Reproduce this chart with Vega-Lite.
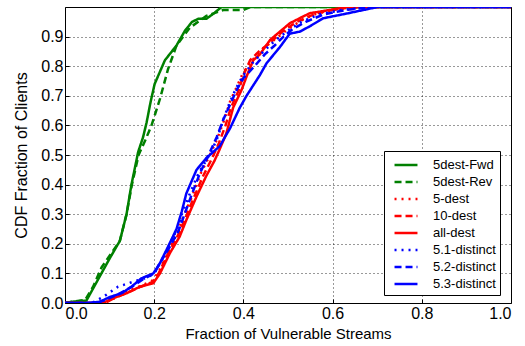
{
  "$schema": "https://vega.github.io/schema/vega-lite/v6.json",
  "width": 446,
  "height": 296,
  "autosize": "none",
  "padding": {"left": 65, "top": 7, "right": 14, "bottom": 43},
  "background": "white",
  "config": {
    "font": "Liberation Sans",
    "view": {"stroke": "black", "strokeWidth": 1},
    "axis": {
      "labelFont": "Liberation Sans", "titleFont": "Liberation Sans",
      "labelFontSize": 16, "titleFontSize": 15, "labelColor": "black", "titleColor": "black",
      "titleFontWeight": "normal", "domain": false, "tickColor": "black",
      "gridColor": "black", "gridDash": [1, 3], "gridOpacity": 0.8, "gridWidth": 1
    }
  },
  "data": {"values": [
    {"s":"5dest-Fwd","x":0,"y":0},{"s":"5dest-Fwd","x":0.02,"y":0.005},{"s":"5dest-Fwd","x":0.048,"y":0.008},{"s":"5dest-Fwd","x":0.078,"y":0.09},{"s":"5dest-Fwd","x":0.1,"y":0.15},{"s":"5dest-Fwd","x":0.123,"y":0.21},{"s":"5dest-Fwd","x":0.138,"y":0.3},{"s":"5dest-Fwd","x":0.149,"y":0.4},{"s":"5dest-Fwd","x":0.164,"y":0.51},{"s":"5dest-Fwd","x":0.175,"y":0.56},{"s":"5dest-Fwd","x":0.183,"y":0.61},{"s":"5dest-Fwd","x":0.192,"y":0.68},{"s":"5dest-Fwd","x":0.201,"y":0.74},{"s":"5dest-Fwd","x":0.224,"y":0.82},{"s":"5dest-Fwd","x":0.25,"y":0.87},{"s":"5dest-Fwd","x":0.269,"y":0.92},{"s":"5dest-Fwd","x":0.285,"y":0.95},{"s":"5dest-Fwd","x":0.299,"y":0.96},{"s":"5dest-Fwd","x":0.317,"y":0.96},{"s":"5dest-Fwd","x":0.335,"y":0.98},{"s":"5dest-Fwd","x":0.351,"y":1.0},{"s":"5dest-Fwd","x":1.0,"y":1.0},
    {"s":"5dest-Rev","x":0,"y":0},{"s":"5dest-Rev","x":0.02,"y":0.005},{"s":"5dest-Rev","x":0.045,"y":0.01},{"s":"5dest-Rev","x":0.063,"y":0.055},{"s":"5dest-Rev","x":0.082,"y":0.12},{"s":"5dest-Rev","x":0.1,"y":0.16},{"s":"5dest-Rev","x":0.123,"y":0.21},{"s":"5dest-Rev","x":0.138,"y":0.3},{"s":"5dest-Rev","x":0.15,"y":0.4},{"s":"5dest-Rev","x":0.165,"y":0.5},{"s":"5dest-Rev","x":0.18,"y":0.55},{"s":"5dest-Rev","x":0.194,"y":0.6},{"s":"5dest-Rev","x":0.213,"y":0.69},{"s":"5dest-Rev","x":0.231,"y":0.79},{"s":"5dest-Rev","x":0.25,"y":0.87},{"s":"5dest-Rev","x":0.28,"y":0.93},{"s":"5dest-Rev","x":0.317,"y":0.97},{"s":"5dest-Rev","x":0.355,"y":0.99},{"s":"5dest-Rev","x":0.4,"y":0.99},{"s":"5dest-Rev","x":0.415,"y":1.0},{"s":"5dest-Rev","x":1.0,"y":1.0},
    {"s":"5-dest","x":0,"y":0},{"s":"5-dest","x":0.09,"y":0},{"s":"5-dest","x":0.115,"y":0.02},{"s":"5-dest","x":0.14,"y":0.04},{"s":"5-dest","x":0.17,"y":0.058},{"s":"5-dest","x":0.195,"y":0.075},{"s":"5-dest","x":0.21,"y":0.105},{"s":"5-dest","x":0.23,"y":0.17},{"s":"5-dest","x":0.25,"y":0.23},{"s":"5-dest","x":0.265,"y":0.29},{"s":"5-dest","x":0.285,"y":0.36},{"s":"5-dest","x":0.305,"y":0.44},{"s":"5-dest","x":0.325,"y":0.5},{"s":"5-dest","x":0.34,"y":0.55},{"s":"5-dest","x":0.355,"y":0.61},{"s":"5-dest","x":0.37,"y":0.68},{"s":"5-dest","x":0.385,"y":0.73},{"s":"5-dest","x":0.4,"y":0.78},{"s":"5-dest","x":0.42,"y":0.82},{"s":"5-dest","x":0.44,"y":0.855},{"s":"5-dest","x":0.47,"y":0.89},{"s":"5-dest","x":0.5,"y":0.925},{"s":"5-dest","x":0.53,"y":0.955},{"s":"5-dest","x":0.56,"y":0.975},{"s":"5-dest","x":0.6,"y":0.99},{"s":"5-dest","x":0.65,"y":1.0},{"s":"5-dest","x":1.0,"y":1.0},
    {"s":"10-dest","x":0,"y":0},{"s":"10-dest","x":0.09,"y":0},{"s":"10-dest","x":0.11,"y":0.016},{"s":"10-dest","x":0.14,"y":0.035},{"s":"10-dest","x":0.17,"y":0.055},{"s":"10-dest","x":0.195,"y":0.07},{"s":"10-dest","x":0.21,"y":0.1},{"s":"10-dest","x":0.232,"y":0.17},{"s":"10-dest","x":0.252,"y":0.225},{"s":"10-dest","x":0.268,"y":0.28},{"s":"10-dest","x":0.29,"y":0.36},{"s":"10-dest","x":0.31,"y":0.43},{"s":"10-dest","x":0.33,"y":0.49},{"s":"10-dest","x":0.345,"y":0.54},{"s":"10-dest","x":0.36,"y":0.6},{"s":"10-dest","x":0.372,"y":0.66},{"s":"10-dest","x":0.39,"y":0.72},{"s":"10-dest","x":0.4,"y":0.77},{"s":"10-dest","x":0.415,"y":0.82},{"s":"10-dest","x":0.435,"y":0.85},{"s":"10-dest","x":0.46,"y":0.88},{"s":"10-dest","x":0.49,"y":0.92},{"s":"10-dest","x":0.52,"y":0.95},{"s":"10-dest","x":0.55,"y":0.97},{"s":"10-dest","x":0.58,"y":0.985},{"s":"10-dest","x":0.62,"y":0.995},{"s":"10-dest","x":0.66,"y":1.0},{"s":"10-dest","x":1.0,"y":1.0},
    {"s":"all-dest","x":0,"y":0},{"s":"all-dest","x":0.085,"y":0},{"s":"all-dest","x":0.108,"y":0.016},{"s":"all-dest","x":0.138,"y":0.033},{"s":"all-dest","x":0.168,"y":0.055},{"s":"all-dest","x":0.198,"y":0.067},{"s":"all-dest","x":0.213,"y":0.1},{"s":"all-dest","x":0.235,"y":0.168},{"s":"all-dest","x":0.257,"y":0.224},{"s":"all-dest","x":0.272,"y":0.28},{"s":"all-dest","x":0.295,"y":0.36},{"s":"all-dest","x":0.317,"y":0.43},{"s":"all-dest","x":0.335,"y":0.48},{"s":"all-dest","x":0.347,"y":0.52},{"s":"all-dest","x":0.362,"y":0.574},{"s":"all-dest","x":0.377,"y":0.66},{"s":"all-dest","x":0.396,"y":0.72},{"s":"all-dest","x":0.407,"y":0.765},{"s":"all-dest","x":0.422,"y":0.82},{"s":"all-dest","x":0.437,"y":0.84},{"s":"all-dest","x":0.46,"y":0.889},{"s":"all-dest","x":0.482,"y":0.917},{"s":"all-dest","x":0.504,"y":0.945},{"s":"all-dest","x":0.534,"y":0.968},{"s":"all-dest","x":0.549,"y":0.979},{"s":"all-dest","x":0.594,"y":0.99},{"s":"all-dest","x":0.632,"y":1.0},{"s":"all-dest","x":1.0,"y":1.0},
    {"s":"5.1-distinct","x":0,"y":0},{"s":"5.1-distinct","x":0.06,"y":0},{"s":"5.1-distinct","x":0.085,"y":0.02},{"s":"5.1-distinct","x":0.119,"y":0.055},{"s":"5.1-distinct","x":0.153,"y":0.072},{"s":"5.1-distinct","x":0.183,"y":0.085},{"s":"5.1-distinct","x":0.2,"y":0.1},{"s":"5.1-distinct","x":0.215,"y":0.14},{"s":"5.1-distinct","x":0.232,"y":0.19},{"s":"5.1-distinct","x":0.25,"y":0.245},{"s":"5.1-distinct","x":0.262,"y":0.3},{"s":"5.1-distinct","x":0.28,"y":0.37},{"s":"5.1-distinct","x":0.3,"y":0.44},{"s":"5.1-distinct","x":0.32,"y":0.49},{"s":"5.1-distinct","x":0.34,"y":0.55},{"s":"5.1-distinct","x":0.355,"y":0.62},{"s":"5.1-distinct","x":0.37,"y":0.68},{"s":"5.1-distinct","x":0.385,"y":0.73},{"s":"5.1-distinct","x":0.4,"y":0.77},{"s":"5.1-distinct","x":0.42,"y":0.81},{"s":"5.1-distinct","x":0.445,"y":0.85},{"s":"5.1-distinct","x":0.47,"y":0.885},{"s":"5.1-distinct","x":0.5,"y":0.92},{"s":"5.1-distinct","x":0.53,"y":0.95},{"s":"5.1-distinct","x":0.57,"y":0.975},{"s":"5.1-distinct","x":0.62,"y":0.99},{"s":"5.1-distinct","x":0.68,"y":1.0},{"s":"5.1-distinct","x":1.0,"y":1.0},
    {"s":"5.2-distinct","x":0,"y":0},{"s":"5.2-distinct","x":0.07,"y":0},{"s":"5.2-distinct","x":0.09,"y":0.01},{"s":"5.2-distinct","x":0.12,"y":0.03},{"s":"5.2-distinct","x":0.15,"y":0.055},{"s":"5.2-distinct","x":0.175,"y":0.08},{"s":"5.2-distinct","x":0.2,"y":0.1},{"s":"5.2-distinct","x":0.215,"y":0.14},{"s":"5.2-distinct","x":0.235,"y":0.19},{"s":"5.2-distinct","x":0.255,"y":0.245},{"s":"5.2-distinct","x":0.268,"y":0.3},{"s":"5.2-distinct","x":0.285,"y":0.37},{"s":"5.2-distinct","x":0.303,"y":0.44},{"s":"5.2-distinct","x":0.322,"y":0.5},{"s":"5.2-distinct","x":0.34,"y":0.56},{"s":"5.2-distinct","x":0.355,"y":0.62},{"s":"5.2-distinct","x":0.37,"y":0.67},{"s":"5.2-distinct","x":0.385,"y":0.72},{"s":"5.2-distinct","x":0.4,"y":0.76},{"s":"5.2-distinct","x":0.425,"y":0.8},{"s":"5.2-distinct","x":0.448,"y":0.84},{"s":"5.2-distinct","x":0.47,"y":0.87},{"s":"5.2-distinct","x":0.49,"y":0.9},{"s":"5.2-distinct","x":0.51,"y":0.925},{"s":"5.2-distinct","x":0.54,"y":0.95},{"s":"5.2-distinct","x":0.58,"y":0.975},{"s":"5.2-distinct","x":0.63,"y":0.99},{"s":"5.2-distinct","x":0.69,"y":1.0},{"s":"5.2-distinct","x":1.0,"y":1.0},
    {"s":"5.3-distinct","x":0,"y":0},{"s":"5.3-distinct","x":0.05,"y":0},{"s":"5.3-distinct","x":0.078,"y":0.004},{"s":"5.3-distinct","x":0.1,"y":0.02},{"s":"5.3-distinct","x":0.127,"y":0.033},{"s":"5.3-distinct","x":0.149,"y":0.055},{"s":"5.3-distinct","x":0.171,"y":0.083},{"s":"5.3-distinct","x":0.198,"y":0.1},{"s":"5.3-distinct","x":0.213,"y":0.135},{"s":"5.3-distinct","x":0.231,"y":0.19},{"s":"5.3-distinct","x":0.25,"y":0.25},{"s":"5.3-distinct","x":0.262,"y":0.31},{"s":"5.3-distinct","x":0.272,"y":0.37},{"s":"5.3-distinct","x":0.295,"y":0.45},{"s":"5.3-distinct","x":0.317,"y":0.49},{"s":"5.3-distinct","x":0.347,"y":0.53},{"s":"5.3-distinct","x":0.37,"y":0.59},{"s":"5.3-distinct","x":0.392,"y":0.66},{"s":"5.3-distinct","x":0.407,"y":0.7},{"s":"5.3-distinct","x":0.437,"y":0.77},{"s":"5.3-distinct","x":0.452,"y":0.81},{"s":"5.3-distinct","x":0.482,"y":0.865},{"s":"5.3-distinct","x":0.504,"y":0.91},{"s":"5.3-distinct","x":0.527,"y":0.917},{"s":"5.3-distinct","x":0.549,"y":0.935},{"s":"5.3-distinct","x":0.579,"y":0.962},{"s":"5.3-distinct","x":0.632,"y":0.978},{"s":"5.3-distinct","x":0.676,"y":0.992},{"s":"5.3-distinct","x":0.7,"y":1.0},{"s":"5.3-distinct","x":1.0,"y":1.0}
  ]},
  "mark": {"type": "line", "strokeWidth": 2.5, "clip": true},
  "encoding": {
    "x": {"field": "x", "type": "quantitative", "scale": {"domain": [0, 1], "nice": false},
      "axis": {"title": "Fraction of Vulnerable Streams", "values": [0, 0.2, 0.4, 0.6, 0.8, 1.0], "format": ".1f", "tickSize": -4, "labelPadding": 6, "titlePadding": 5, "grid": true}},
    "y": {"field": "y", "type": "quantitative", "scale": {"domain": [0, 1], "nice": false},
      "axis": {"title": "CDF Fraction of Clients", "titleFontSize": 16, "values": [0, 0.1, 0.2, 0.3, 0.4, 0.5, 0.6, 0.7, 0.8, 0.9], "format": ".1f", "tickSize": -4, "labelPadding": 6, "titlePadding": 11, "grid": true}},
    "color": {"field": "s", "type": "nominal",
      "scale": {"domain": ["5dest-Fwd","5dest-Rev","5-dest","10-dest","all-dest","5.1-distinct","5.2-distinct","5.3-distinct"],
        "range": ["#008000","#008000","#ff0000","#ff0000","#ff0000","#0000ff","#0000ff","#0000ff"]},
      "legend": {"title": null, "orient": "none", "legendX": 319, "legendY": 144, "symbolType": "M-1.35,0H1.35", "symbolSize": 289, "symbolStrokeWidth": 2.5, "symbolOffset": 8,
        "labelFontSize": 13, "labelFont": "Liberation Sans", "labelColor": "black", "rowPadding": 0, "padding": 4, "strokeColor": "black", "fillColor": "white", "labelOffset": 17}},
    "strokeDash": {"field": "s", "type": "nominal",
      "scale": {"domain": ["5dest-Fwd","5dest-Rev","5-dest","10-dest","all-dest","5.1-distinct","5.2-distinct","5.3-distinct"],
        "range": [[1,0],[7,4],[2,5],[7,4],[1,0],[2,5],[7,4],[1,0]]},
      "legend": null}
  }
}
